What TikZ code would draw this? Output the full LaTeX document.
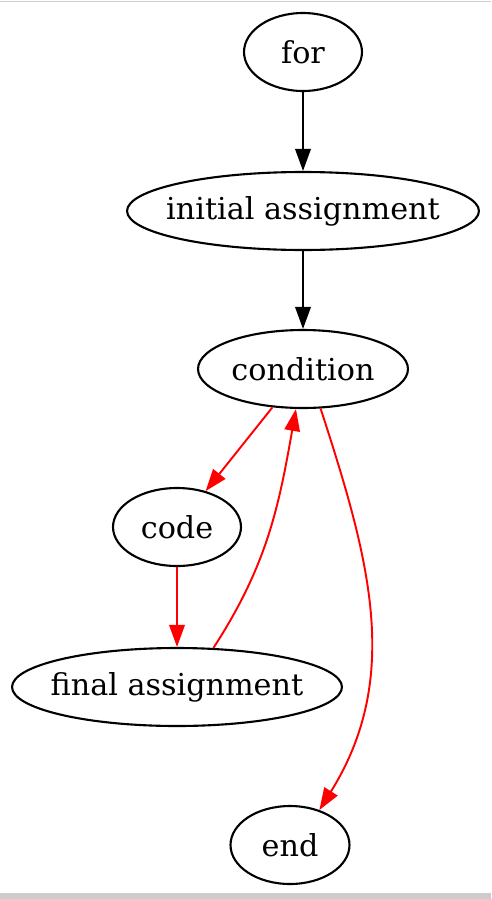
\documentclass[tikz,border=0pt]{standalone}
\usepackage{fontspec}
\setmainfont{DejaVu Serif}
\usepackage{tikz}
\usetikzlibrary{
  arrows.meta,
  positioning,
  shapes.geometric
}
\definecolor{edgered}{HTML}{FF0000}
\definecolor{framegrey}{HTML}{CCCCCC}
\newcommand{\stmttext}[1]{\makebox[0pt]{#1}}
\tikzset{
  stmt/.style={
    ellipse, draw=black, line width=1.2pt, inner sep=0pt,
    minimum width=#1, minimum height=1.56cm,
    font=\fontsize{17.2}{20}\selectfont
  },
  flow/.style={
    -{Triangle[length=0.44cm,width=0.31cm]}, line width=1.1pt, color=black
  },
  redflow/.style={
    flow, color=edgered
  },
}

\begin{document}
\begin{tikzpicture}[x=0.02cm,y=-0.02cm]
  \useasboundingbox (0,0) rectangle (491,899);

  %% Screenshot edges
  \draw[framegrey, line width=0.8pt] (0,1.5) -- (491,1.5);
  \fill[framegrey] (0,893) rectangle (491,899);

  %% Nodes
  \node[stmt=2.36cm] (for)  at (303,52)  {\stmttext{for}};
  \node[stmt=7.04cm] (init) at (303,211) {\stmttext{initial assignment}};
  \node[stmt=4.2cm]  (cond) at (303,369) {\stmttext{condition}};
  \node[stmt=2.56cm] (code) at (177,527) {\stmttext{code}};
  \node[stmt=6.6cm]  (fin)  at (177,687) {\stmttext{final assignment}};
  \node[stmt=2.38cm] (end)  at (290,845) {\stmttext{end}};

  %% Straight flow
  \draw[flow] (for) -- (init);
  \draw[flow] (init) -- (cond);

  %% Loop
  \draw[redflow] (cond) -- (code);
  \draw[redflow] (code) -- (fin);
  \draw[redflow] (fin.47) to[out=57, in=-100] (cond.-100);
  \draw[redflow] (cond.-66) to[out=-72, in=58] (end.50);
\end{tikzpicture}
\end{document}
